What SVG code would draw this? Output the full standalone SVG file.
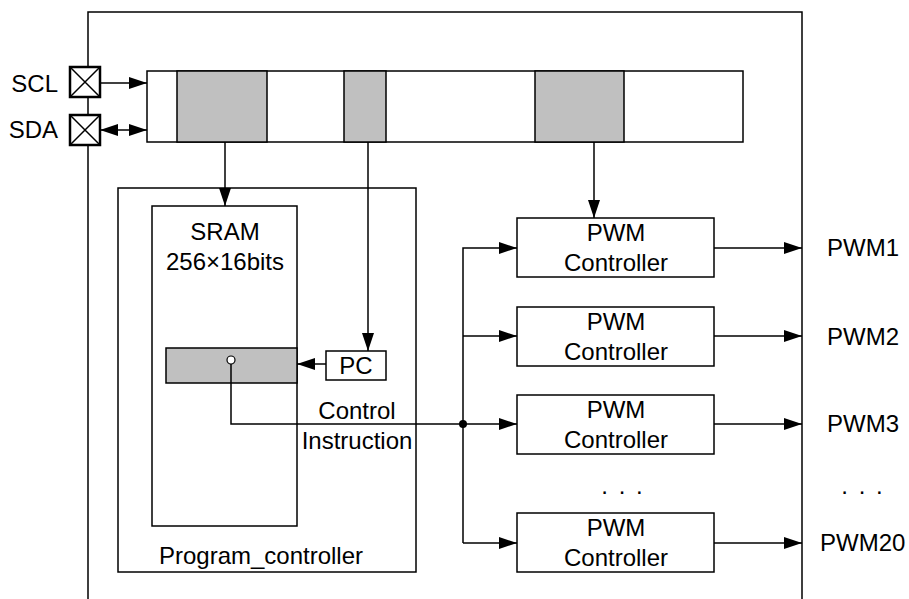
<svg xmlns="http://www.w3.org/2000/svg" width="909" height="599" viewBox="0 0 909 599">
<style>
  .ln{fill:none;stroke:#000;stroke-width:1.5}
  .box{fill:#fff;stroke:#000;stroke-width:1.5}
  .gray{fill:#c0c0c0;stroke:#000;stroke-width:1.5}
  .pad{fill:#fff;stroke:#000;stroke-width:2.5}
  .t{font-family:"Liberation Sans",Arial,sans-serif;font-size:24px;fill:#000}
  .c{text-anchor:middle}
  .e{text-anchor:end}
</style>
<defs>
  <marker id="arr" markerUnits="userSpaceOnUse" markerWidth="18" markerHeight="12" refX="18" refY="6" orient="auto-start-reverse">
    <path d="M0,0 L18,6 L0,12 z" fill="#000"/>
  </marker>
</defs>
<rect width="909" height="599" fill="#fff"/>

<g id="chip">
  <path class="ln" d="M88,599 V12 H802 V599"/>
</g>

<g id="pad-scl">
  <rect class="pad" x="70" y="67" width="30" height="30"/>
  <path class="ln" d="M70,67 L100,97 M100,67 L70,97"/>
  <text class="t e" x="58" y="92">SCL</text>
</g>
<g id="pad-sda">
  <rect class="pad" x="70" y="115" width="30" height="30"/>
  <path class="ln" d="M70,115 L100,145 M100,115 L70,145"/>
  <text class="t e" x="58" y="138">SDA</text>
</g>

<g id="register">
  <rect class="box" x="147" y="71" width="596" height="71"/>
  <rect class="gray" x="177" y="71" width="90" height="71"/>
  <rect class="gray" x="344" y="71" width="42" height="71"/>
  <rect class="gray" x="535" y="71" width="89" height="71"/>
</g>

<g id="program-controller">
  <rect class="box" x="118" y="188" width="298" height="384"/>
  <text class="t c" x="261" y="564">Program_controller</text>
</g>

<g id="sram">
  <rect class="box" x="152" y="206" width="145" height="320"/>
  <text class="t c" x="225" y="240">SRAM</text>
  <text class="t c" x="225" y="270">256×16bits</text>
  <rect class="gray" x="166" y="348" width="131" height="35"/>
</g>

<g id="pc">
  <rect class="box" x="326" y="351" width="60" height="29"/>
  <text class="t c" x="356" y="374">PC</text>
</g>

<g id="pwm-ctrl-1">
  <rect class="box" x="517" y="218" width="197" height="59"/>
  <text class="t c" x="616" y="241">PWM</text>
  <text class="t c" x="616" y="271">Controller</text>
</g>
<g id="pwm-ctrl-2">
  <rect class="box" x="517" y="307" width="197" height="59"/>
  <text class="t c" x="616" y="330">PWM</text>
  <text class="t c" x="616" y="360">Controller</text>
</g>
<g id="pwm-ctrl-3">
  <rect class="box" x="517" y="395" width="197" height="59"/>
  <text class="t c" x="616" y="418">PWM</text>
  <text class="t c" x="616" y="448">Controller</text>
</g>
<g id="pwm-ctrl-20">
  <rect class="box" x="517" y="513" width="197" height="59"/>
  <text class="t c" x="616" y="536">PWM</text>
  <text class="t c" x="616" y="566">Controller</text>
</g>

<g id="labels">
  <text class="t c" x="357" y="419">Control</text>
  <text class="t c" x="357" y="449">Instruction</text>
  <text class="t c" x="623" y="494" letter-spacing="2">. . .</text>
  <text class="t c" x="863" y="494" letter-spacing="2">. . .</text>
  <text class="t" x="827" y="256">PWM1</text>
  <text class="t" x="827" y="345">PWM2</text>
  <text class="t" x="827" y="432">PWM3</text>
  <text class="t" x="820" y="551">PWM20</text>
</g>

<g id="connectors">
  <path class="ln" d="M100,83 H147" marker-end="url(#arr)"/>
  <path class="ln" d="M100,130 H147" marker-start="url(#arr)" marker-end="url(#arr)"/>
  <path class="ln" d="M225,142 V206" marker-end="url(#arr)"/>
  <path class="ln" d="M368,142 V351" marker-end="url(#arr)"/>
  <path class="ln" d="M594,142 V218" marker-end="url(#arr)"/>
  <path class="ln" d="M326,364 H297" marker-end="url(#arr)"/>
  <path class="ln" d="M231,364 V424 H517" marker-end="url(#arr)"/>
  <path class="ln" d="M463,543 V248 H517" marker-end="url(#arr)"/>
  <path class="ln" d="M463,336 H517" marker-end="url(#arr)"/>
  <path class="ln" d="M463,543 H517" marker-end="url(#arr)"/>
  <path class="ln" d="M714,248 H802" marker-end="url(#arr)"/>
  <path class="ln" d="M714,336 H802" marker-end="url(#arr)"/>
  <path class="ln" d="M714,424 H802" marker-end="url(#arr)"/>
  <path class="ln" d="M714,543 H802" marker-end="url(#arr)"/>
  <circle cx="231" cy="360" r="4" fill="#fff" stroke="#000" stroke-width="1.2"/>
  <circle cx="463" cy="424" r="4" fill="#000"/>
</g>
</svg>
